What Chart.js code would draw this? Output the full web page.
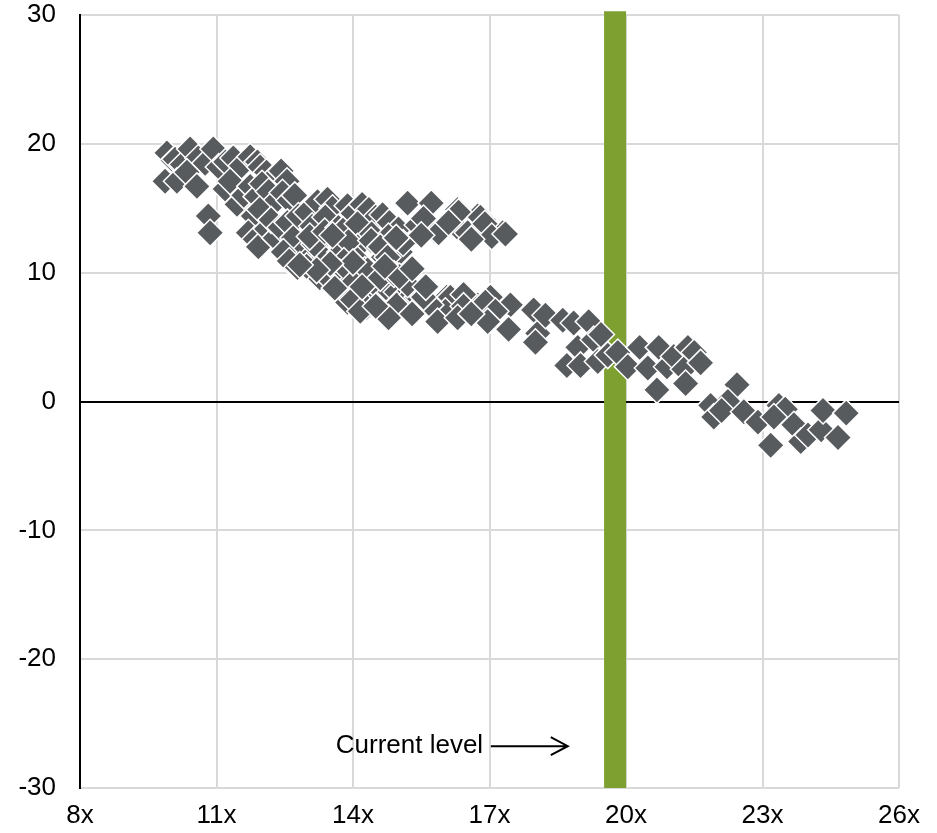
<!DOCTYPE html>
<html><head><meta charset="utf-8">
<script src="https://cdn.jsdelivr.net/npm/chart.js@4.4.1/dist/chart.umd.min.js"></script>
<style>html,body{margin:0;padding:0;background:#fff}#wrap{width:937px;height:833px;position:relative}</style>
</head><body><div id="wrap"><canvas id="c" width="937" height="833"></canvas></div>
<script>
// ---- data (forward P/E multiple, subsequent return) ----
const xTicks = [8, 11, 14, 17, 20, 23, 26];
const yTicks = [-30, -20, -10, 0, 10, 20, 30];
const currentLevel = 19.76;
const annotationLabel = "Current level";

const upperBand = [[9.91,19.3],[10.05,18.7],[10.09,18.8],[10.25,18.4],[10.42,19.6],[10.6,18.9],[10.75,18.5],[10.93,19.6],[11.05,18.2],[11.2,18.6],[11.37,18.9],[11.55,18.3],[11.74,19.0],[11.9,18.6],[11.96,18.2],[12.1,17.8],[12.29,17.5],[12.42,17.9],[12.55,17.1],
[9.87,17.1],[10.13,17.1],[10.35,17.8],[10.57,16.7],[10.82,14.4],[10.86,13.1],
[11.19,16.5],[11.3,17.1],[11.45,15.3],[11.6,16.0],[11.74,16.7],[11.88,15.9],[12.0,16.9],[12.15,16.3],[12.29,15.5],[12.45,16.2],[12.6,15.6],[12.72,16.0],
[11.81,14.4],[11.95,14.9],[11.70,13.1],[11.85,12.6],[11.92,12.0],[12.1,13.4],[12.29,12.7],[12.2,14.1],[12.4,13.5],[12.56,13.9],[12.69,12.7],[12.8,14.4],[12.98,14.7],[13.1,13.6],[13.22,15.5],[12.91,11.6],[12.47,11.6],[12.6,10.9],[12.78,10.4],[13.0,11.0],[13.27,9.6],[13.35,12.7],[13.35,11.2],[13.15,12.2],[13.05,12.8],[12.98,10.5]];

const middleBand = [[13.44,15.7],[13.55,15.0],[13.88,15.2],[14.0,14.6],[14.2,15.3],[14.35,14.9],[14.5,14.3],[14.65,14.5],[14.8,13.9],[15.0,13.4],[13.39,14.3],[13.38,13.2],[13.68,13.5],[13.78,13.3],[14.10,13.8],[14.41,13.0],[14.78,12.8],[14.10,12.0],[14.67,11.2],[15.04,11.6],[13.72,11.6],[13.9,12.4],[14.4,12.5],[14.6,12.0],[15.1,12.3],[14.95,12.7],[13.55,12.9],[13.8,10.9],[14.1,11.0],[14.26,10.2],[13.71,10.0],[14.76,11.2]];

const upperCluster = [[15.2,15.4],[15.72,15.4],[16.3,14.9],[16.74,14.4],[16.87,14.1],[15.42,13.7],[15.81,13.2],[16.3,13.5],[16.52,13.1],[16.32,14.7],[16.8,14.3],[16.98,13.0],[17.29,13.1],[15.88,13.1],[15.55,14.2],[16.1,13.9],[16.9,13.8],[17.05,12.8],[17.35,13.0],[15.5,12.9],[16.6,12.6]];

const lowerBand = [[13.46,9.6],[14.02,9.3],[14.32,10.2],[14.38,8.5],[13.88,7.7],[13.99,7.9],[14.3,7.3],[14.54,8.9],[14.82,8.5],[14.96,8.5],[15.0,7.7],[14.96,7.5],[15.31,8.3],[15.42,8.1],[15.62,7.9],[16.06,8.1],[16.14,8.1],[16.03,7.0],[15.70,7.5],[16.74,7.5],[17.02,8.1],[16.43,8.3],[15.86,6.2],[14.16,7.0],[14.78,6.5],[15.55,8.1],[16.43,7.4],[17.02,7.1],[17.46,7.5],[17.42,5.6],[16.91,7.7],[17.13,7.0],[16.96,6.2],[14.6,9.6],[14.9,9.9],[15.2,9.1],[14.5,7.4],[15.3,6.8],[15.02,9.7],[14.2,8.9],[13.6,8.8],[14.7,10.5],[14.0,10.8],[15.3,10.3],[15.6,8.9],[16.3,6.5],[16.6,6.8],[13.5,10.7],[13.2,10.2],[12.83,10.6]];

const tail = [[17.97,7.1],[18.06,5.3],[18.23,6.7],[18.01,4.6],[18.61,6.3],[18.85,6.1],[19.18,6.2],[18.94,4.2],[19.29,4.8],[18.70,2.8],[19.0,2.8],[19.38,3.1],[19.45,5.2],[19.6,3.6],[19.82,3.8],[20.04,2.7],[20.30,4.2],[20.48,2.6],[20.72,4.2],[20.9,2.7],[21.05,3.5],[21.36,4.2],[21.27,2.5],[21.5,3.8],[21.64,3.0],[21.31,1.4],[20.68,0.9],[22.44,1.3],[22.24,0.0],[21.86,-0.3],[21.93,-1.2],[22.1,-0.7],[22.59,-0.8],[22.90,-1.6],[23.36,-0.3],[23.5,-0.6],[23.25,-1.2],[23.69,-1.8],[23.18,-3.4],[23.84,-3.1],[24.0,-2.6],[24.29,-2.2],[24.33,-0.7],[24.66,-2.8],[24.84,-0.9]];

// ---- build ----
const allPoints = [].concat(upperBand, middleBand, upperCluster, lowerBand, tail).map(p => ({x: p[0], y: p[1]}));
const FONT = "'Liberation Sans', Arial, sans-serif";

const annotationPlugin = {
  id: 'currentLevelNote',
  afterDraw(chart) {
    const ctx = chart.ctx, xs = chart.scales.x, ys = chart.scales.y;
    const yPix = ys.getPixelForValue(-26.75);
    const textRight = xs.getPixelForValue(16.86);
    const arrowStart = xs.getPixelForValue(17.03);
    const arrowEnd = xs.getPixelForValue(18.72);
    ctx.save();
    ctx.fillStyle = '#000';
    ctx.font = "26px " + FONT;
    ctx.textAlign = 'right';
    ctx.textBaseline = 'middle';
    ctx.fillText(annotationLabel, textRight, yPix);
    ctx.strokeStyle = '#000';
    ctx.lineWidth = 2;
    ctx.beginPath();
    ctx.moveTo(arrowStart, yPix);
    ctx.lineTo(arrowEnd, yPix);
    ctx.moveTo(arrowEnd - 17, yPix - 9);
    ctx.lineTo(arrowEnd, yPix);
    ctx.lineTo(arrowEnd - 17, yPix + 9);
    ctx.stroke();
    ctx.restore();
  }
};

function zeroPad(s) { s.paddingTop = 0; s.paddingBottom = 0; s.paddingLeft = 0; s.paddingRight = 0; }

new Chart(document.getElementById('c'), {
  data: {
    datasets: [
      {
        type: 'scatter',
        data: allPoints,
        pointStyle: 'rectRot',
        pointRadius: 13.5,
        pointHoverRadius: 13.5,
        backgroundColor: '#585B5E',
        borderColor: '#FFFFFF',
        borderWidth: 1.5,
        order: 1
      },
      {
        type: 'line',
        data: [{x: currentLevel, y: -30}, {x: currentLevel, y: 30.3}],
        borderColor: '#7DA030',
        borderWidth: 22,
        pointRadius: 0,
        clip: false,
        order: 2
      }
    ]
  },
  options: {
    responsive: false,
    animation: false,
    devicePixelRatio: 1,
    events: [],
    layout: { padding: { top: 15, right: 38, left: 0, bottom: 0 } },
    plugins: { legend: { display: false }, tooltip: { enabled: false } },
    scales: {
      x: {
        type: 'linear', min: 8, max: 26,
        afterBuildTicks(s) { s.ticks = xTicks.map(v => ({ value: v })); },
        afterFit(s) { s.height = 45; zeroPad(s); },
        ticks: { callback: v => v + 'x', color: '#000', font: { family: FONT, size: 26 }, padding: 12, maxRotation: 0 },
        grid: { color: c => (c.tick && c.tick.value === 8) ? 'rgba(0,0,0,0)' : '#D9D9D9', lineWidth: 2, drawTicks: false },
        border: { display: false }
      },
      y: {
        type: 'linear', min: -30, max: 30,
        afterBuildTicks(s) { s.ticks = yTicks.map(v => ({ value: v })); },
        afterFit(s) { s.width = 80; zeroPad(s); },
        ticks: { color: '#000', font: { family: FONT, size: 26 }, padding: 24 },
        grid: { color: c => (c.tick && c.tick.value === 0) ? '#000000' : '#D9D9D9', lineWidth: 2, drawTicks: false },
        border: { display: true, color: '#000', width: 2 }
      }
    }
  },
  plugins: [annotationPlugin]
});
</script></body></html>
